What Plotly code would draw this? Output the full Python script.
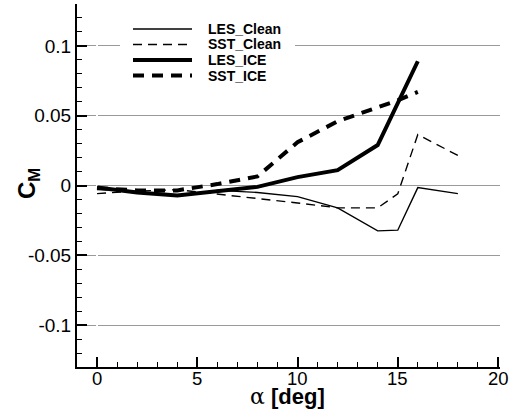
import plotly.graph_objects as go

# Pitching-moment coefficient vs. angle of attack
alpha_les_clean = [0, 2, 4, 6, 8, 10, 12, 14, 15, 16, 18]
cm_les_clean = [-0.002, -0.005, -0.007, -0.0035, -0.005, -0.008, -0.016, -0.0325, -0.032, -0.0015, -0.0058]

alpha_sst_clean = [0, 2, 4, 6, 8, 10, 12, 14, 15, 16, 18]
cm_sst_clean = [-0.0058, -0.004, -0.003, -0.006, -0.0095, -0.0125, -0.016, -0.016, -0.006, 0.0365, 0.0215]

alpha_les_ice = [0, 2, 4, 6, 8, 10, 12, 14, 16]
cm_les_ice = [-0.0015, -0.005, -0.0072, -0.004, -0.001, 0.006, 0.011, 0.029, 0.089]

alpha_sst_ice = [0, 2, 4, 6, 8, 10, 12, 14, 15, 16]
cm_sst_ice = [-0.002, -0.0035, -0.0035, 0.001, 0.0065, 0.031, 0.046, 0.056, 0.061, 0.067]

series_names = ["LES_Clean", "SST_Clean", "LES_ICE", "SST_ICE"]
x_ticks = [0, 5, 10, 15, 20]
x_ticktext = ["0", "5", "10", "15", "20"]
y_ticks = [-0.1, -0.05, 0, 0.05, 0.1]
y_ticktext = ["-0.1", "-0.05", "0", "0.05", "0.1"]

styles = {
    "LES_Clean": dict(width=1.4, dash="solid"),
    "SST_Clean": dict(width=1.4, dash="9px,6px"),
    "LES_ICE": dict(width=4, dash="solid"),
    "SST_ICE": dict(width=4, dash="11px,8px"),
}
data = {
    "LES_Clean": (alpha_les_clean, cm_les_clean),
    "SST_Clean": (alpha_sst_clean, cm_sst_clean),
    "LES_ICE": (alpha_les_ice, cm_les_ice),
    "SST_ICE": (alpha_sst_ice, cm_sst_ice),
}

FONT = "Arial, Liberation Sans, sans-serif"
W, H = 514, 410
ML, MR, MT, MB = 77, 14, 4, 43
PW, PH = W - ML - MR, H - MT - MB

fig = go.Figure()
for name in series_names:
    xs, ys = data[name]
    fig.add_trace(go.Scatter(
        x=xs, y=ys, mode="lines", name=name, showlegend=False,
        line=dict(color="black", **styles[name]),
    ))


def px_x(p):
    return (p - ML) / PW


def px_y(p):
    return 1 - (p - MT) / PH


# Legend box drawn in the upper-left corner of the plot area
shapes = [dict(type="rect", xref="paper", yref="paper",
               x0=px_x(120), x1=px_x(295), y0=px_y(88), y1=px_y(17),
               fillcolor="white", line=dict(width=0), layer="above")]
annotations = []
row_y = [29, 44.5, 60, 75.5]
for name, ry in zip(series_names, row_y):
    st = styles[name]
    shapes.append(dict(type="line", xref="paper", yref="paper",
                       x0=px_x(133), x1=px_x(192), y0=px_y(ry), y1=px_y(ry),
                       line=dict(color="black", width=st["width"], dash=st["dash"]),
                       layer="above"))
    annotations.append(dict(xref="paper", yref="paper", x=px_x(206), y=px_y(ry),
                            xanchor="left", yanchor="middle", showarrow=False,
                            text=f"<b>{name}</b>",
                            font=dict(family=FONT, size=14, color="black")))

# x tick labels placed just under the axis line
for v, t in zip(x_ticks, x_ticktext):
    annotations.append(dict(xref="x", yref="paper", x=v, y=px_y(378),
                            xanchor="center", yanchor="middle", showarrow=False,
                            text=t, font=dict(family=FONT, size=18.5, color="black")))

# Axis titles
annotations.append(dict(xref="paper", yref="paper", x=px_x(287), y=px_y(396),
                        xanchor="center", yanchor="middle", showarrow=False,
                        text="<span style='font-family:DejaVu Serif'>α</span> <b>[deg]</b>",
                        font=dict(family=FONT, size=22, color="black")))
annotations.append(dict(xref="paper", yref="paper", x=px_x(28), y=px_y(184),
                        xanchor="center", yanchor="middle", showarrow=False,
                        textangle=-90, text="<b>C<sub>M</sub></b>",
                        font=dict(family=FONT, size=24, color="black")))

fig.update_layout(
    width=W, height=H,
    margin=dict(l=ML, r=MR, t=MT, b=MB),
    paper_bgcolor="white", plot_bgcolor="white",
    shapes=shapes, annotations=annotations,
    xaxis=dict(range=[-1, 20.1], tickmode="array", tickvals=x_ticks,
               showticklabels=False, showgrid=False,
               ticks="inside", ticklen=10, tickwidth=2, tickcolor="black",
               showline=True, linecolor="black", linewidth=2,
               minor=dict(ticks="inside", ticklen=5, tickwidth=1.2, tickcolor="black",
                          dtick=1, tick0=0, showgrid=False)),
    yaxis=dict(range=[-0.13, 0.13], tickmode="array", tickvals=y_ticks, ticktext=y_ticktext,
               tickfont=dict(family=FONT, size=19, color="black"),
               showgrid=True, gridcolor="#9a9a9a", gridwidth=1, zeroline=False,
               ticks="inside", ticklen=10, tickwidth=2, tickcolor="black",
               showline=True, linecolor="black", linewidth=2,
               minor=dict(ticks="inside", ticklen=5, tickwidth=1.2, tickcolor="black",
                          dtick=0.01, tick0=0, showgrid=False)),
)

fig.write_html("out.html")
